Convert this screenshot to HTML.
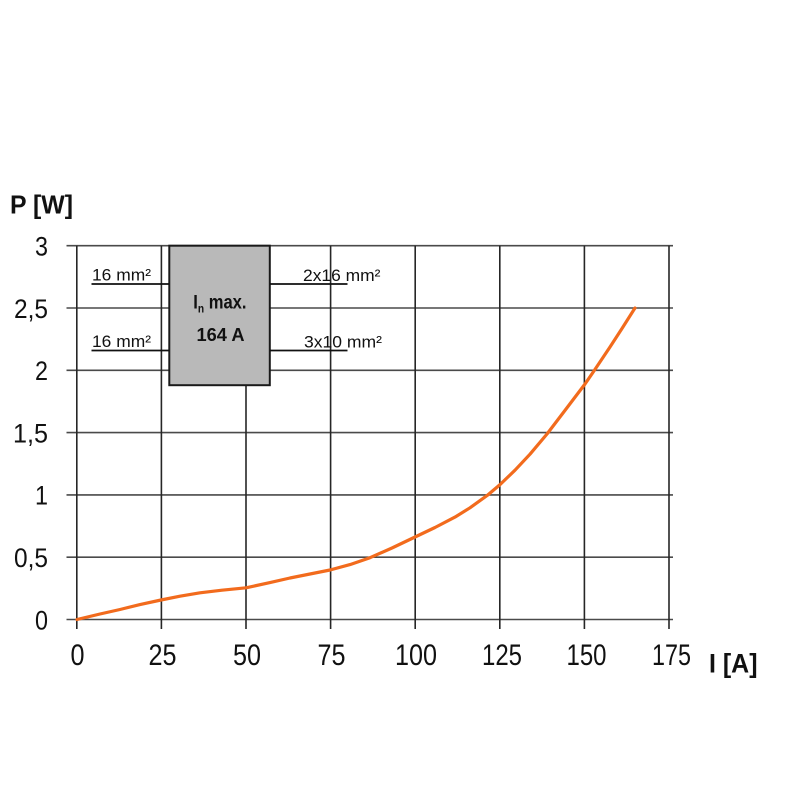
<!DOCTYPE html>
<html>
<head>
<meta charset="utf-8">
<style>
html,body{margin:0;padding:0;background:#fff;}
svg{display:block;}
text{font-family:"Liberation Sans Narrow","Liberation Sans",sans-serif;fill:#111;}
</style>
</head>
<body>
<svg width="800" height="800" viewBox="0 0 800 800" xmlns="http://www.w3.org/2000/svg">
<rect width="800" height="800" fill="#fff"/>

<!-- horizontal grid lines -->
<g stroke="#4a4a4a" stroke-width="1.6">
<line x1="66.5" y1="245.7" x2="673" y2="245.7"/>
<line x1="66.5" y1="308" x2="673" y2="308"/>
<line x1="66.5" y1="370.3" x2="673" y2="370.3"/>
<line x1="66.5" y1="432.6" x2="673" y2="432.6"/>
<line x1="66.5" y1="494.9" x2="673" y2="494.9"/>
<line x1="66.5" y1="557.2" x2="673" y2="557.2"/>
<line x1="66.5" y1="619.5" x2="673" y2="619.5"/>
</g>
<!-- vertical grid lines -->
<g stroke="#262626" stroke-width="1.6">
<line x1="76.8" y1="245.7" x2="76.8" y2="629"/>
<line x1="161.4" y1="245.7" x2="161.4" y2="629"/>
<line x1="246" y1="245.7" x2="246" y2="629"/>
<line x1="330.6" y1="245.7" x2="330.6" y2="629"/>
<line x1="415.2" y1="245.7" x2="415.2" y2="629"/>
<line x1="499.8" y1="245.7" x2="499.8" y2="629"/>
<line x1="584.4" y1="245.7" x2="584.4" y2="629"/>
<line x1="669" y1="245.7" x2="669" y2="629"/>
</g>

<!-- curve -->
<polyline fill="none" stroke="#f26b1d" stroke-width="3.2" stroke-linejoin="round" stroke-linecap="round"
points="77,619.5 100,614 120,609.5 140,604.6 161,600 180,596.2 200,592.8 222,590.2 246,587.8 270,582.6 290,578 310,574 330,570 350,564.6 370,557.7 392,548 414,537.5 435,527.5 455,517.1 470,507.8 487,495.6 500,484.6 515,470.2 530,454.2 547,434 565,410.4 585,384 593,372.4 610,347 622,328.5 635,308"/>

<!-- box -->
<rect x="169.3" y="245.7" width="100.5" height="139.5" fill="#b9b9b9" stroke="#1a1a1a" stroke-width="2"/>
<text transform="translate(193.3,308.3) scale(0.85,1)" font-size="19.5" font-weight="bold">I<tspan font-size="12" dy="4">n</tspan><tspan dy="-4"> max.</tspan></text>
<text x="196.5" y="341" font-size="18.5" font-weight="bold" textLength="48" lengthAdjust="spacingAndGlyphs">164 A</text>

<!-- connection labels -->
<g stroke="#111" stroke-width="1.8">
<line x1="91.5" y1="284" x2="169" y2="284"/>
<line x1="91.5" y1="350.5" x2="169" y2="350.5"/>
<line x1="270" y1="284" x2="347.5" y2="284"/>
<line x1="270" y1="350.5" x2="347.5" y2="350.5"/>
</g>
<text x="92" y="280.5" font-size="17" textLength="59" lengthAdjust="spacingAndGlyphs">16 mm²</text>
<text x="92" y="347" font-size="17" textLength="59" lengthAdjust="spacingAndGlyphs">16 mm²</text>
<text x="303" y="281" font-size="17" textLength="77.5" lengthAdjust="spacingAndGlyphs">2x16 mm²</text>
<text x="304" y="347.3" font-size="17" textLength="78" lengthAdjust="spacingAndGlyphs">3x10 mm²</text>

<!-- y-axis labels -->
<g font-size="27" text-anchor="end">
<text x="48" y="255.5" textLength="13" lengthAdjust="spacingAndGlyphs">3</text>
<text x="48" y="317.8" textLength="34" lengthAdjust="spacingAndGlyphs">2,5</text>
<text x="48" y="380.1" textLength="13" lengthAdjust="spacingAndGlyphs">2</text>
<text x="48" y="442.4" textLength="35" lengthAdjust="spacingAndGlyphs">1,5</text>
<text x="48" y="504.7" textLength="13" lengthAdjust="spacingAndGlyphs">1</text>
<text x="48" y="567" textLength="34" lengthAdjust="spacingAndGlyphs">0,5</text>
<text x="48" y="629.5" textLength="13" lengthAdjust="spacingAndGlyphs">0</text>
</g>

<!-- x-axis labels -->
<g font-size="30" text-anchor="middle">
<text x="77.5" y="665" textLength="14" lengthAdjust="spacingAndGlyphs">0</text>
<text x="162.5" y="665" textLength="28" lengthAdjust="spacingAndGlyphs">25</text>
<text x="247" y="665" textLength="28" lengthAdjust="spacingAndGlyphs">50</text>
<text x="331.5" y="665" textLength="28" lengthAdjust="spacingAndGlyphs">75</text>
<text x="416" y="665" textLength="42" lengthAdjust="spacingAndGlyphs">100</text>
<text x="502" y="665" textLength="40" lengthAdjust="spacingAndGlyphs">125</text>
<text x="586.5" y="665" textLength="40" lengthAdjust="spacingAndGlyphs">150</text>
<text x="671.5" y="665" textLength="39" lengthAdjust="spacingAndGlyphs">175</text>
</g>

<!-- axis titles -->
<text x="10" y="213.5" font-size="26" font-weight="bold" textLength="63" lengthAdjust="spacingAndGlyphs">P [W]</text>
<text x="709" y="672.5" font-size="27" font-weight="bold" textLength="48.5" lengthAdjust="spacingAndGlyphs">I [A]</text>
</svg>
</body>
</html>
